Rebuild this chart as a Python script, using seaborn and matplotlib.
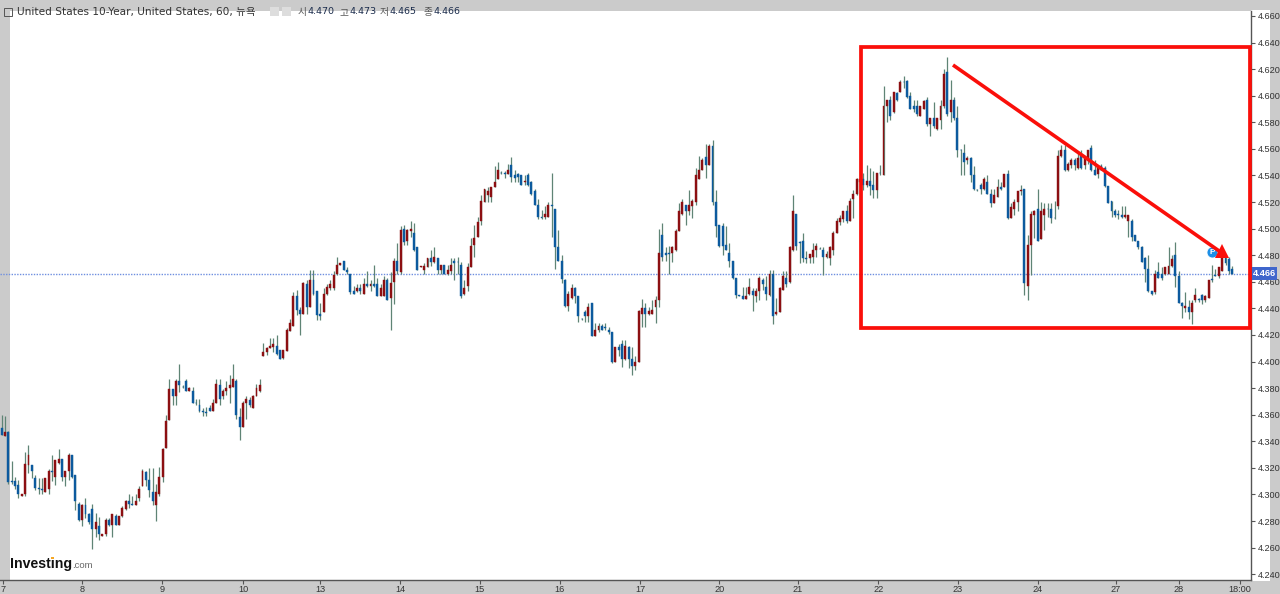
import matplotlib
matplotlib.use('Agg')
from matplotlib import pyplot as plt
from matplotlib.patches import Rectangle, Polygon
import numpy as np
import pandas as pd
import seaborn as sns

opens = [
    4.350,4.344,4.347,4.310,4.310,4.307,4.299,4.300,4.322,4.322, 4.312,4.305,4.304,4.302,4.304,4.318,4.313,4.324,4.327,4.313,
    4.318,4.330,4.315,4.293,4.281,4.292,4.285,4.289,4.274,4.276, 4.269,4.270,4.281,4.277,4.284,4.277,4.284,4.289,4.295,4.293,
    4.292,4.297,4.306,4.317,4.311,4.302,4.292,4.300,4.313,4.335, 4.356,4.379,4.374,4.385,4.381,4.385,4.378,4.378,4.369,4.367,
    4.363,4.362,4.365,4.363,4.369,4.382,4.374,4.378,4.380,4.381, 4.385,4.358,4.351,4.369,4.371,4.365,4.374,4.378,4.404,4.407,
    4.410,4.411,4.412,4.409,4.403,4.408,4.423,4.427,4.449,4.439, 4.436,4.458,4.441,4.461,4.453,4.436,4.437,4.451,4.455,4.455,
    4.466,4.473,4.476,4.469,4.466,4.453,4.453,4.455,4.451,4.458, 4.457,4.458,4.458,4.449,4.449,4.461,4.448,4.460,4.476,4.467,
    4.500,4.491,4.498,4.497,4.486,4.471,4.469,4.471,4.478,4.475, 4.478,4.469,4.473,4.466,4.468,4.476,4.475,4.473,4.451,4.457,
    4.471,4.488,4.494,4.506,4.520,4.525,4.524,4.531,4.537,4.542, 4.542,4.541,4.548,4.540,4.541,4.540,4.535,4.540,4.535,4.528,
    4.518,4.509,4.509,4.509,4.518,4.515,4.486,4.476,4.461,4.442, 4.448,4.455,4.449,4.432,4.437,4.434,4.444,4.419,4.424,4.427,
    4.426,4.424,4.422,4.400,4.411,4.413,4.402,4.411,4.402,4.397, 4.400,4.436,4.440,4.436,4.436,4.441,4.446,4.495,4.482,4.482,
    4.482,4.484,4.498,4.511,4.518,4.513,4.517,4.520,4.537,4.544, 4.554,4.548,4.562,4.520,4.503,4.502,4.488,4.482,4.476,4.463,
    4.450,4.449,4.447,4.451,4.453,4.449,4.453,4.461,4.456,4.450, 4.466,4.436,4.437,4.454,4.463,4.460,4.484,4.511,4.490,4.491,
    4.478,4.478,4.479,4.484,4.485,4.484,4.479,4.478,4.484,4.497, 4.505,4.507,4.513,4.506,4.522,4.526,4.535,4.537,4.533,4.536,
    4.533,4.529,4.542,4.540,4.592,4.597,4.588,4.602,4.603,4.610, 4.611,4.600,4.592,4.592,4.585,4.590,4.597,4.579,4.583,4.575,
    4.582,4.592,4.618,4.588,4.597,4.583,4.559,4.557,4.552,4.553, 4.540,4.529,4.533,4.530,4.535,4.526,4.519,4.524,4.531,4.531,
    4.541,4.508,4.515,4.520,4.528,4.530,4.457,4.488,4.510,4.515, 4.492,4.510,4.515,4.515,4.508,4.517,4.555,4.559,4.544,4.548,
    4.552,4.546,4.555,4.548,4.553,4.561,4.544,4.541,4.547,4.546, 4.532,4.521,4.513,4.511,4.510,4.509,4.506,4.506,4.495,4.491,
    4.486,4.478,4.470,4.453,4.452,4.467,4.466,4.466,4.466,4.472, 4.480,4.464,4.444,4.440,4.441,4.437,4.446,4.447,4.450,4.446,
    4.448,4.462,4.465,4.464,4.468,4.478,4.477,4.470,
]
highs = [
    4.360,4.359,4.348,4.325,4.313,4.311,4.300,4.332,4.337,4.322, 4.315,4.312,4.312,4.312,4.319,4.330,4.326,4.334,4.327,4.318,
    4.331,4.330,4.315,4.294,4.293,4.297,4.286,4.293,4.286,4.283, 4.270,4.282,4.282,4.285,4.285,4.284,4.291,4.296,4.300,4.299,
    4.300,4.306,4.319,4.318,4.320,4.320,4.308,4.321,4.335,4.360, 4.387,4.379,4.387,4.398,4.382,4.387,4.381,4.381,4.372,4.372,
    4.365,4.366,4.367,4.372,4.387,4.387,4.379,4.385,4.390,4.398, 4.387,4.365,4.370,4.374,4.373,4.375,4.383,4.387,4.414,4.411,
    4.418,4.418,4.420,4.409,4.409,4.425,4.432,4.452,4.454,4.441, 4.460,4.461,4.469,4.469,4.453,4.444,4.455,4.458,4.461,4.468,
    4.479,4.474,4.476,4.471,4.466,4.457,4.458,4.458,4.463,4.468, 4.461,4.473,4.463,4.458,4.464,4.463,4.467,4.478,4.489,4.502,
    4.503,4.500,4.506,4.504,4.486,4.472,4.474,4.478,4.484,4.486, 4.478,4.473,4.473,4.473,4.478,4.478,4.479,4.475,4.461,4.474,
    4.493,4.503,4.509,4.525,4.530,4.531,4.531,4.547,4.550,4.543, 4.543,4.549,4.554,4.544,4.542,4.540,4.540,4.542,4.536,4.530,
    4.522,4.514,4.517,4.520,4.542,4.515,4.499,4.480,4.462,4.453, 4.458,4.456,4.449,4.433,4.439,4.444,4.444,4.429,4.429,4.428,
    4.429,4.426,4.422,4.411,4.413,4.416,4.416,4.412,4.411,4.404, 4.439,4.447,4.444,4.441,4.446,4.449,4.500,4.504,4.486,4.487,
    4.487,4.500,4.519,4.522,4.518,4.529,4.522,4.546,4.555,4.553, 4.564,4.564,4.567,4.529,4.503,4.504,4.502,4.489,4.476,4.463,
    4.450,4.456,4.456,4.463,4.455,4.455,4.464,4.463,4.464,4.469, 4.469,4.448,4.456,4.468,4.468,4.487,4.525,4.511,4.491,4.497,
    4.483,4.481,4.489,4.489,4.486,4.486,4.483,4.487,4.498,4.508, 4.510,4.513,4.518,4.523,4.529,4.538,4.544,4.542,4.548,4.546,
    4.543,4.542,4.548,4.607,4.597,4.600,4.603,4.603,4.612,4.615, 4.612,4.603,4.597,4.597,4.592,4.597,4.599,4.583,4.595,4.583,
    4.597,4.620,4.629,4.612,4.599,4.592,4.560,4.564,4.555,4.554, 4.547,4.530,4.534,4.539,4.540,4.530,4.530,4.537,4.535,4.541,
    4.544,4.519,4.522,4.528,4.533,4.530,4.495,4.513,4.514,4.530, 4.520,4.519,4.519,4.519,4.521,4.559,4.563,4.563,4.550,4.553,
    4.553,4.557,4.559,4.555,4.559,4.563,4.552,4.548,4.549,4.547, 4.532,4.521,4.515,4.514,4.517,4.517,4.510,4.507,4.495,4.491,
    4.487,4.479,4.480,4.453,4.469,4.475,4.471,4.471,4.486,4.480, 4.490,4.468,4.445,4.452,4.446,4.446,4.455,4.448,4.451,4.450,
    4.461,4.473,4.470,4.471,4.480,4.480,4.479,4.472,
]
lows = [
    4.345,4.344,4.308,4.308,4.304,4.297,4.299,4.299,4.316,4.312, 4.303,4.300,4.300,4.302,4.300,4.310,4.307,4.323,4.310,4.306,
    4.311,4.312,4.288,4.280,4.276,4.282,4.278,4.259,4.268,4.266, 4.269,4.269,4.276,4.268,4.277,4.277,4.283,4.288,4.290,4.292,
    4.292,4.295,4.306,4.306,4.298,4.292,4.280,4.299,4.309,4.335, 4.356,4.367,4.367,4.377,4.380,4.378,4.378,4.369,4.367,4.362,
    4.359,4.359,4.363,4.363,4.369,4.367,4.372,4.375,4.369,4.381, 4.357,4.341,4.351,4.357,4.366,4.365,4.374,4.377,4.404,4.405,
    4.410,4.407,4.405,4.402,4.402,4.408,4.423,4.427,4.435,4.420, 4.436,4.436,4.441,4.450,4.431,4.431,4.437,4.450,4.454,4.454,
    4.465,4.473,4.469,4.466,4.451,4.451,4.452,4.451,4.451,4.456, 4.453,4.456,4.449,4.449,4.449,4.446,4.424,4.443,4.466,4.466,
    4.488,4.488,4.494,4.483,4.469,4.471,4.466,4.471,4.472,4.474, 4.466,4.466,4.466,4.465,4.466,4.461,4.466,4.448,4.450,4.453,
    4.471,4.479,4.494,4.503,4.520,4.520,4.520,4.531,4.537,4.541, 4.538,4.541,4.535,4.535,4.535,4.533,4.533,4.532,4.525,4.518,
    4.507,4.507,4.507,4.509,4.494,4.470,4.476,4.459,4.441,4.438, 4.447,4.444,4.430,4.431,4.430,4.430,4.419,4.419,4.422,4.424,
    4.424,4.421,4.399,4.400,4.404,4.396,4.401,4.395,4.390,4.394, 4.400,4.426,4.426,4.435,4.436,4.429,4.441,4.476,4.476,4.466,
    4.475,4.483,4.498,4.510,4.503,4.510,4.508,4.518,4.537,4.544, 4.538,4.548,4.518,4.494,4.486,4.480,4.484,4.471,4.462,4.448,
    4.449,4.447,4.447,4.450,4.438,4.445,4.446,4.454,4.446,4.449, 4.428,4.435,4.437,4.454,4.456,4.459,4.483,4.484,4.474,4.475,
    4.474,4.474,4.474,4.479,4.485,4.465,4.478,4.473,4.480,4.497, 4.503,4.505,4.504,4.506,4.508,4.525,4.535,4.529,4.531,4.525,
    4.523,4.523,4.540,4.540,4.580,4.582,4.587,4.596,4.603,4.606, 4.598,4.590,4.588,4.585,4.585,4.590,4.577,4.570,4.576,4.574,
    4.575,4.591,4.585,4.580,4.582,4.554,4.540,4.540,4.549,4.535, 4.529,4.528,4.526,4.529,4.526,4.516,4.519,4.524,4.529,4.531,
    4.507,4.508,4.510,4.513,4.525,4.450,4.446,4.465,4.493,4.491, 4.492,4.499,4.509,4.504,4.507,4.515,4.554,4.543,4.543,4.546,
    4.544,4.545,4.545,4.545,4.549,4.543,4.540,4.538,4.544,4.531, 4.519,4.509,4.509,4.507,4.508,4.508,4.494,4.491,4.491,4.485,
    4.475,4.460,4.452,4.450,4.451,4.463,4.461,4.465,4.466,4.471, 4.456,4.444,4.433,4.437,4.432,4.428,4.445,4.445,4.443,4.445,
    4.448,4.460,4.464,4.463,4.468,4.473,4.466,4.466,
]
closes = [
    4.345,4.347,4.309,4.309,4.306,4.300,4.300,4.323,4.330,4.318, 4.305,4.304,4.303,4.312,4.318,4.317,4.326,4.327,4.313,4.318,
    4.330,4.313,4.295,4.281,4.292,4.285,4.279,4.274,4.279,4.270, 4.270,4.281,4.277,4.285,4.277,4.284,4.290,4.295,4.293,4.292,
    4.295,4.304,4.318,4.311,4.303,4.295,4.302,4.313,4.334,4.355, 4.379,4.374,4.385,4.382,4.381,4.378,4.380,4.369,4.369,4.363,
    4.362,4.361,4.363,4.369,4.383,4.372,4.378,4.380,4.382,4.387, 4.360,4.351,4.369,4.372,4.367,4.374,4.380,4.382,4.407,4.410,
    4.412,4.413,4.406,4.402,4.409,4.424,4.429,4.449,4.439,4.436, 4.459,4.441,4.461,4.451,4.435,4.434,4.451,4.456,4.458,4.465,
    4.473,4.474,4.469,4.467,4.452,4.451,4.455,4.453,4.458,4.457, 4.458,4.457,4.449,4.455,4.461,4.446,4.459,4.476,4.468,4.499,
    4.490,4.499,4.500,4.484,4.469,4.472,4.472,4.478,4.475,4.479, 4.469,4.473,4.466,4.469,4.473,4.474,4.475,4.449,4.455,4.471,
    4.487,4.493,4.505,4.521,4.530,4.528,4.531,4.535,4.544,4.542, 4.541,4.544,4.539,4.538,4.539,4.533,4.536,4.533,4.526,4.518,
    4.509,4.508,4.511,4.518,4.517,4.486,4.476,4.462,4.442,4.451, 4.455,4.449,4.434,4.432,4.434,4.441,4.419,4.424,4.427,4.424,
    4.425,4.422,4.400,4.411,4.409,4.402,4.412,4.402,4.397,4.400, 4.438,4.440,4.436,4.438,4.439,4.446,4.482,4.479,4.480,4.481,
    4.486,4.498,4.513,4.520,4.513,4.518,4.521,4.540,4.544,4.552, 4.548,4.562,4.520,4.502,4.487,4.487,4.484,4.476,4.463,4.450,
    4.449,4.447,4.449,4.456,4.450,4.453,4.463,4.458,4.451,4.466, 4.434,4.437,4.455,4.464,4.458,4.486,4.513,4.487,4.489,4.478,
    4.477,4.481,4.484,4.487,4.485,4.479,4.481,4.486,4.497,4.506, 4.508,4.513,4.506,4.521,4.526,4.537,4.537,4.533,4.536,4.532,
    4.529,4.542,4.542,4.592,4.597,4.585,4.603,4.597,4.610,4.610, 4.599,4.590,4.590,4.586,4.592,4.596,4.579,4.583,4.577,4.583,
    4.592,4.616,4.586,4.597,4.583,4.559,4.559,4.550,4.553,4.540, 4.530,4.529,4.530,4.537,4.526,4.519,4.525,4.531,4.530,4.541,
    4.508,4.516,4.520,4.528,4.529,4.459,4.488,4.511,4.513,4.491, 4.513,4.515,4.515,4.508,4.508,4.555,4.559,4.544,4.549,4.552,
    4.548,4.553,4.546,4.554,4.559,4.544,4.540,4.547,4.544,4.532, 4.519,4.513,4.510,4.510,4.509,4.510,4.510,4.494,4.491,4.486,
    4.475,4.470,4.453,4.451,4.466,4.463,4.463,4.471,4.472,4.477, 4.464,4.444,4.442,4.442,4.437,4.444,4.450,4.446,4.446,4.449,
    4.461,4.461,4.464,4.471,4.479,4.474,4.468,4.466,
]

day_labels = ['7', '8', '9', '10', '13', '14', '15', '16', '17', '20', '21', '22', '23', '24', '27', '28', '18:00']
day_candles = [0.4, 24, 47.8, 72, 95, 118.8, 142.6, 166.5, 190.4, 214, 237.5, 261.4, 285.2, 309, 332.3, 351, 369.3]
price_ticks = [4.24, 4.26, 4.28, 4.30, 4.32, 4.34, 4.36, 4.38, 4.40, 4.42, 4.44, 4.46,
               4.48, 4.50, 4.52, 4.54, 4.56, 4.58, 4.60, 4.62, 4.64, 4.66]
last_price = 4.466

UP = '#8c0f12'
DOWN = '#0c5a9e'
WICK = '#5f8475'
GRAY = '#cbcbcb'
RED = '#fa0f0a'

sns.set_style('white')
plt.rcParams['font.family'] = ['DejaVu Sans', 'Noto Sans CJK KR']

W, H = 1280, 594
fig = plt.figure(figsize=(W / 100, H / 100), dpi=100, facecolor=GRAY)
ax = fig.add_axes([0, (H - 580) / H, 1251 / W, 569 / H], facecolor='white')

# px to data, for the hand drawn stuff
def xd(px):
    return (px - 1.67) / 3.353
def yd(py):
    return 4.66 - (py - 16) / 1329

fig.patches.append(Rectangle((1251 / W, (H - 581) / H), 19 / W, 571 / H, transform=fig.transFigure,
                             facecolor='white', edgecolor='none', zorder=-1))

data = pd.DataFrame({'idx': np.arange(len(opens)), 'open': opens, 'high': highs, 'low': lows, 'close': closes})
data['body'] = (data['close'] - data['open']).abs()
data['bottom'] = data[['open', 'close']].min(axis=1)
up = data[data['close'] > data['open']]
down = data[data['close'] <= data['open']]

ax.axvspan(xd(0), xd(10), color=GRAY, lw=0, zorder=0)
ax.vlines(data['idx'], data['low'], data['high'], color=WICK, lw=0.9, zorder=2)
sns.barplot(data=up, x='idx', y='body', bottom=up['bottom'], native_scale=True, color=UP, saturation=1,
            errorbar=None, width=0.58, linewidth=0.3, edgecolor=UP, zorder=3, ax=ax)
sns.barplot(data=down, x='idx', y='body', bottom=down['bottom'], native_scale=True, color=DOWN, saturation=1,
            errorbar=None, width=0.58, linewidth=0.3, edgecolor=DOWN, zorder=3, ax=ax)
ax.axhline(last_price, color='#6f8fe0', lw=1.0, ls=(0, (1, 1)), zorder=1.5)

ax.set_xlim(xd(0), xd(1251))
ax.set_ylim(yd(580), yd(11))
ax.set_xlabel('')
ax.set_ylabel('')
ax.yaxis.tick_right()
ax.set_yticks(price_ticks, [f'{p:.3f}' for p in price_ticks])
ax.set_xticks(day_candles, day_labels)
ax.tick_params(axis='y', length=3, width=0.8, color='#555555', pad=2, labelsize=6.6, labelcolor='#333333', right=True)
ax.tick_params(axis='x', length=3, width=0.8, color='#555555', pad=0.5, labelsize=6.6, labelcolor='#333333', bottom=True)
for t in ax.get_xticklabels() + ax.get_yticklabels():
    t.set_family('Liberation Sans')
for s in ['left', 'top']:
    ax.spines[s].set_visible(False)
for s in ['right', 'bottom']:
    ax.spines[s].set_color('#555555')
    ax.spines[s].set_linewidth(1.0)

# red box, trend arrow
ax.add_patch(Rectangle((xd(861), yd(328)), xd(1250) - xd(861), yd(47) - yd(328), fill=False,
                       edgecolor=RED, lw=2.7, zorder=5, clip_on=False))
ax.scatter([xd(1212)], [yd(252)], s=62, color='#1c8fe6', edgecolor='white', linewidth=0.5, zorder=6)
ax.text(xd(1212), yd(252), 'P', color='white', fontsize=6, ha='center', va='center', weight='bold', zorder=7,
        family='Liberation Sans')
ax.plot([xd(953), xd(1222)], [yd(65), yd(253)], color=RED, lw=2.6, zorder=8, solid_capstyle='butt')
ax.add_patch(Polygon([(xd(1222), yd(244)), (xd(1215), yd(258)), (xd(1229), yd(258))], closed=True,
                     facecolor=RED, edgecolor='none', zorder=8))

# last price tag
fig.patches.append(Rectangle((1252 / W, (H - 280) / H), 25 / W, 13 / H, transform=fig.transFigure,
                             facecolor='#3f66cc', edgecolor='none', zorder=5))
fig.text(1264.5 / W, (H - 273.7) / H, '4.466', color='white', fontsize=6.6, weight='bold', ha='center', va='center',
         family='Liberation Sans', zorder=6)

# header
fig.patches.append(Rectangle((3.5 / W, (H - 16) / H), 8 / W, 8 / H, transform=fig.transFigure,
                             facecolor='none', edgecolor='#555555', lw=0.7))
fig.patches.append(Rectangle((5.5 / W, (H - 12.3) / H), 4 / W, 0.6 / H, transform=fig.transFigure,
                             facecolor='#555555', edgecolor='none'))
fig.text(17 / W, (H - 12) / H, 'United States 10-Year, United States, 60, 뉴욕', fontsize=7.6, color='#333333',
         va='center', ha='left')
for bx in [270, 282]:
    fig.patches.append(Rectangle((bx / W, (H - 16) / H), 9 / W, 9 / H, transform=fig.transFigure,
                                 facecolor='#dddddd', edgecolor='none'))
for lx, lab, val in [(298, '시', '4.470'), (339, '고', '4.473'), (380, '저', '4.465'), (423, '종', '4.466')]:
    fig.text(lx / W, (H - 12) / H, lab, fontsize=7, color='#555555', va='center', ha='left')
    fig.text((lx + 10) / W, (H - 12) / H, val, fontsize=6.8, color='#1b2c4c', va='center', ha='left')

# logo
fig.text(10 / W, (H - 564) / H, 'Investing', fontsize=10.2, weight='bold', color='#111111', va='center', ha='left',
         family='Liberation Sans')
fig.text(72 / W, (H - 565.5) / H, '.com', fontsize=6.8, color='#666666', va='center', ha='left',
         family='Liberation Sans')
fig.patches.append(Rectangle((51 / W, (H - 559) / H), 2.5 / W, 2.5 / H, transform=fig.transFigure,
                             facecolor='#f5a623', edgecolor='none', zorder=5))

fig.savefig('out.png', dpi=100, facecolor=fig.get_facecolor())
